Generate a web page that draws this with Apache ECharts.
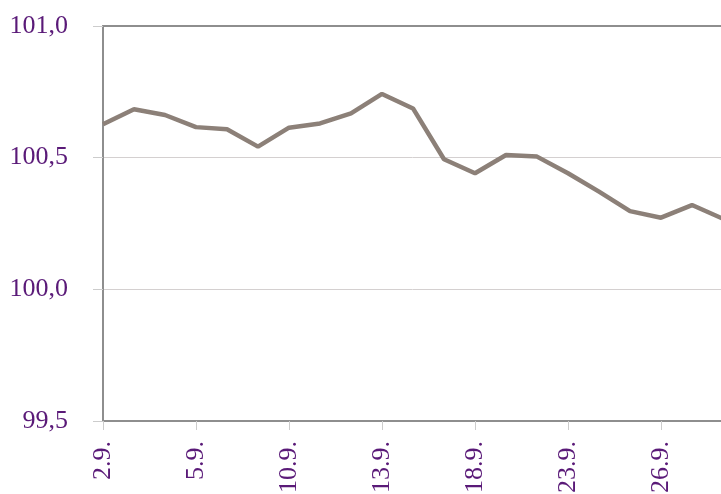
<!DOCTYPE html>
<html>
<head>
<meta charset="utf-8">
<script src="https://cdn.jsdelivr.net/npm/echarts@6/dist/echarts.min.js"></script>
<style>html,body{margin:0;padding:0;background:#fff;}#c{width:721px;height:494px;}</style>
</head>
<body>
<div id="c"></div>
<script>
var categories = ['2.9.','3.9.','4.9.','5.9.','8.9.','9.9.','10.9.','11.9.','12.9.','13.9.','16.9.','17.9.','18.9.','19.9.','22.9.','23.9.','24.9.','25.9.','26.9.','29.9.','30.9.'];
var values = [100.627,100.684,100.662,100.616,100.608,100.542,100.614,100.630,100.668,100.742,100.687,100.494,100.441,100.510,100.504,100.441,100.371,100.297,100.272,100.320,100.268];
var yTicks = {min: 99.5, max: 101.0, interval: 0.5};

var labelColor = '#5a1a78';
var font = '"Liberation Serif", "DejaVu Serif", serif';
var chart = echarts.init(document.getElementById('c'));
chart.setOption({
  animation: false,
  grid: {left: 103, right: -2, top: 26, bottom: 73, show: false, containLabel: false, outerBoundsMode: 'none'},
  xAxis: [{
    type: 'category', data: categories, boundaryGap: false, position: 'bottom',
    axisLine: {show: true, onZero: false, lineStyle: {color: '#8e8e8e', width: 2}},
    axisTick: {interval: 2, length: 9, lineStyle: {color: '#cccccc', width: 1}},
    axisLabel: {interval: 2, rotate: 90, margin: 20, color: labelColor, fontFamily: font, fontSize: 26},
    splitLine: {show: false}
  }, {
    type: 'category', data: categories, boundaryGap: false, position: 'top',
    axisLine: {show: true, onZero: false, lineStyle: {color: '#8e8e8e', width: 2}},
    axisTick: {show: false}, axisLabel: {show: false}, splitLine: {show: false}
  }],
  yAxis: {
    type: 'value', min: yTicks.min, max: yTicks.max, interval: yTicks.interval,
    axisLine: {show: true, onZero: false, lineStyle: {color: '#8e8e8e', width: 2}},
    axisTick: {show: true, length: 10, lineStyle: {color: '#cccccc', width: 1}},
    axisLabel: {margin: 35, color: labelColor, fontFamily: font, fontSize: 26,
      formatter: function(v){ return v.toFixed(1).replace('.', ','); }},
    splitLine: {show: true, lineStyle: {color: '#d4d0d0', width: 1}}
  },
  series: [{
    type: 'line', data: values, symbol: 'none', xAxisIndex: 0,
    lineStyle: {color: '#8c8078', width: 4.5}
  }]
});
</script>
</body>
</html>
